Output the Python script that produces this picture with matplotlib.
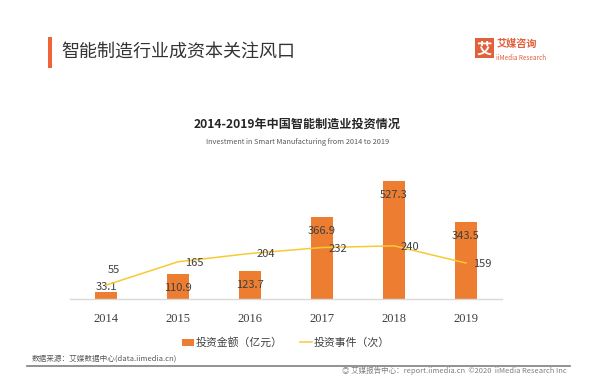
import matplotlib
matplotlib.use("Agg")
import matplotlib.pyplot as plt
from matplotlib.patches import Rectangle, Patch
from matplotlib.lines import Line2D

plt.rcParams["font.family"] = ["Noto Sans CJK SC", "DejaVu Sans"]

years = ["2014", "2015", "2016", "2017", "2018", "2019"]
amount = [33.1, 110.9, 123.7, 366.9, 527.3, 343.5]   # 投资金额（亿元）
events = [55, 165, 204, 232, 240, 159]               # 投资事件（次）

W, H = 605, 384
BAR = "#ED7D31"
LINE = "#F9C934"
TXT = "#404040"

fig = plt.figure(figsize=(W / 100, H / 100), dpi=100)
fig.patch.set_facecolor("white")


def fx(px):
    return px / W


def fy(py):
    return 1 - py / H


# header
fig.patches.append(Rectangle((fx(48.5), fy(67.7)), fx(4), 31 / H, transform=fig.transFigure,
                             color="#F0643A", lw=0))
fig.text(fx(61), fy(51.5), "智能制造行业成资本关注风口", fontsize=13, color="#333333", va="center")

# logo
fig.patches.append(Rectangle((fx(475), fy(58.3)), fx(18.5), 20 / H, transform=fig.transFigure,
                             color="#E2603A", lw=0))
fig.text(fx(484.2), fy(48.5), "艾", fontsize=11, color="white", weight="bold", ha="center", va="center")
fig.text(fx(496.5), fy(43.5), "艾媒咨询", fontsize=7.3, color="#E2603A", weight="bold", va="center")
fig.text(fx(496.5), fy(57.5), "iiMedia Research", fontsize=4.6, color="#E2603A", va="center")

# titles
fig.text(fx(297.5), fy(124), "2014-2019年中国智能制造业投资情况", fontsize=8.7, weight="bold",
         color="#262626", ha="center", va="center")
fig.text(fx(297.5), fy(142.3), "Investment in Smart Manufacturing from 2014 to 2019", fontsize=5.3,
         color="#595959", ha="center", va="center")

# chart
ax = fig.add_axes([fx(70), fy(299), fx(432), 134 / H])
x = range(len(years))
ax.bar(x, amount, width=0.3, color=BAR, zorder=2)
ax.set_xlim(-0.5, 5.5)
ax.set_ylim(0, 600)
for s in ["top", "right", "left"]:
    ax.spines[s].set_visible(False)
ax.spines["bottom"].set_color("#D9D9D9")
ax.spines["bottom"].set_linewidth(1)
ax.set_yticks([])
ax.set_xticks(list(x))
ax.set_xticklabels(years, family="Liberation Serif", fontsize=9, color=TXT)
ax.tick_params(axis="x", length=0, pad=10)

px_per_unit = 134 / 600
for i, v in enumerate(amount):
    if v * px_per_unit > 20:
        ax.annotate(f"{v}", (i, v), xytext=(0, -14), textcoords="offset pixels",
                    ha="center", va="center", fontsize=8, color=TXT, zorder=5)
    else:
        ax.annotate(f"{v}", (i, 0), xytext=(0, 12), textcoords="offset pixels",
                    ha="center", va="center", fontsize=8, color=TXT, zorder=5)

ax2 = ax.twinx()
ax2.plot(list(x), events, color=LINE, lw=1.1, zorder=3)
ax2.set_ylim(-10, 620)
ax2.axis("off")
for i, v in enumerate(events):
    off = (8, 15) if i == 0 else (16, -1)
    ax2.annotate(f"{v}", (i, v), xytext=off, textcoords="offset pixels",
                 ha="center", va="center", fontsize=8, color=TXT, zorder=5)

handles = [Patch(facecolor=BAR, edgecolor="none"), Line2D([], [], color=LINE, lw=1.1)]
fig.legend(handles, ["投资金额（亿元）", "投资事件（次）"], loc="center",
           bbox_to_anchor=(fx(286), fy(342.5)), ncol=2, frameon=False, fontsize=7.8,
           handlelength=1.1, handleheight=0.6, handletextpad=0.15, columnspacing=1.6,
           labelcolor=TXT)

# footer
fig.text(fx(31.5), fy(359), "数据来源：艾媒数据中心(data.iimedia.cn)", fontsize=5.5,
         color="#595959", va="center")
fig.add_artist(Line2D([fx(27), fx(570)], [fy(365.7), fy(365.7)], color="#7F7F7F", lw=1.2))
fig.text(fx(566.5), fy(370.5), "◎ 艾媒报告中心：report.iimedia.cn  ©2020  iiMedia Research Inc",
         fontsize=5.4, color="#7F7F7F", va="center", ha="right")

fig.savefig("out.png", dpi=100)
